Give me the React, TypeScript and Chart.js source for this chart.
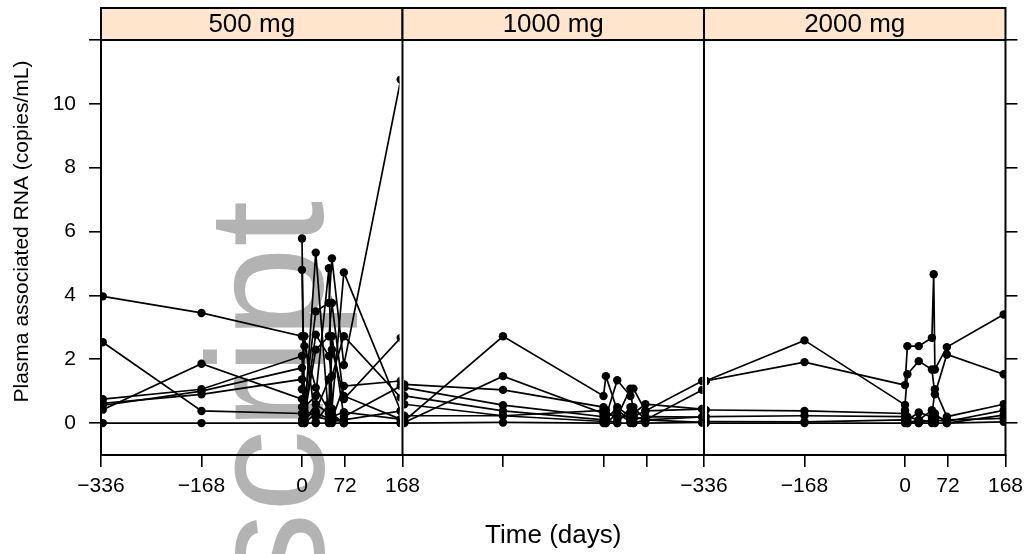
import React, { useEffect, useRef } from 'react';
import { Chart, registerables } from 'chart.js';

Chart.register(...registerables);

const FONT = '"Liberation Sans", Arial, Helvetica, sans-serif';

// Panels (dose groups)
const PANEL_LABELS = ['500 mg', '1000 mg', '2000 mg'];
const PANEL_SPAN = 504; // days covered by one panel (-336 .. 168)
const DAY_MIN = -336;

// Axis ticks
const X_TICK_DAYS = [-336, -168, 0, 72, 168];
const X_TICK_LABELED = [true, false, true];
const Y_TICKS = [0, 2, 4, 6, 8, 10, 12];
const Y_LABELED = [0, 2, 4, 6, 8, 10];
const Y_MIN = -1;
const Y_MAX = 12;

// Visit days per panel
const VISITS_500 = [-333, -168, 0, 4, 23, 45, 50, 70, 165];
const VISITS_1000 = [-333, -168, 0, 4, 23, 45, 50, 70, 165];
const VISITS_2000 = [-333, -168, 0, 4, 23, 45, 48, 50, 70, 165];

// Plasma associated RNA (copies/mL), one row per subject
const RNA_500: (number | null)[][] = [
  [3.97, 3.45, 2.72, 2.41, 1.11, 0.38, 0.2, 0.34, 0.12],
  [2.53, 0.38, 0.3, 0.1, 5.34, 0.05, 0.2, 0.0, 0.0],
  [0.42, 1.86, 0.75, 0.5, 0.85, 4.85, 0.45, 4.72, 0.38],
  [0.75, 1.06, 2.1, 0.6, 3.5, 3.76, 5.16, 1.82, 10.76],
  [0.62, 0.9, 1.37, 0.2, 2.3, 2.72, 3.76, 0.75, 2.67],
  [0.55, 1.0, 1.73, 0.3, 2.77, 2.1, 1.47, 2.72, 0.8],
  [0.0, 0.0, 0.0, 0.0, 0.0, 0.0, 0.0, 0.0, 0.0],
  [null, null, 5.78, 0.15, 0.38, 1.37, 0.1, 1.16, 1.32],
  [null, null, 4.8, 0.05, 0.59, 0.3, 2.3, 0.85, 0.12],
  [null, null, 1.06, 2.72, 0.04, 0.6, 2.72, 0.2, 1.16],
  [null, null, 0.5, 0.4, 0.2, 0.1, 0.3, 0.0, 0.0],
  [null, null, 0.1, 0.0, 0.3, 0.15, 0.05, 0.1, 0.38],
];

const RNA_1000: (number | null)[][] = [
  [0.07, 2.72, 0.85, 1.47, 0.4, 0.1, 0.2, 0.1, 1.04],
  [0.02, 1.47, 0.3, 0.2, 1.34, 0.85, 1.08, 0.38, 1.32],
  [1.21, 1.04, 0.5, 0.3, 0.2, 1.08, 0.3, 0.59, 0.44],
  [1.11, 0.56, 0.2, 0.1, 0.5, 0.2, 0.1, 0.2, 0.19],
  [0.85, 0.38, 0.1, 0.4, 0.1, 0.3, 0.5, 0.1, 0.02],
  [0.59, 0.23, 0.4, 0.0, 0.3, 0.05, 0.2, 0.38, 0.44],
  [0.23, 0.23, 0.05, 0.1, 0.0, 0.5, 0.0, 0.1, 0.19],
  [0.0, 0.02, 0.0, 0.0, 0.0, 0.0, 0.0, 0.0, 0.02],
];

const RNA_2000: (number | null)[][] = [
  [1.32, 2.59, 0.57, 1.53, 1.94, 1.68, null, 0.9, 2.15, 1.53],
  [1.32, 1.91, 1.19, 2.41, 2.41, 2.67, 4.66, 1.68, 2.38, 3.4],
  [0.41, 0.38, 0.3, 0.1, 0.33, 0.2, null, 1.06, 0.2, 0.59],
  [0.2, 0.23, 0.2, 0.0, 0.1, 0.4, null, 0.1, 0.05, 0.4],
  [0.05, 0.04, 0.1, 0.05, 0.0, 0.1, null, 0.3, 0.0, 0.25],
  [0.0, 0.0, 0.0, 0.0, 0.0, 0.0, null, 0.0, 0.0, 0.04],
  [null, null, 0.4, 0.2, 0.1, 0.05, null, 0.2, 0.1, 0.15],
];

const PANEL_VISITS = [VISITS_500, VISITS_1000, VISITS_2000];
const PANEL_ROWS = [RNA_500, RNA_1000, RNA_2000];

const X_TITLE = 'Time (days)';
const Y_TITLE = 'Plasma associated RNA (copies/mL)';
const WATERMARK = 'script';

const toAxis = (panel: number, day: number) => panel * PANEL_SPAN + (day - DAY_MIN);

// Build x tick values and labels
const X_TICK_MAP: Record<number, string> = {};
PANEL_LABELS.forEach((_, p) => {
  X_TICK_DAYS.forEach((d) => {
    const v = toAxis(p, d);
    const lab = X_TICK_LABELED[p] ? (d < 0 ? '\u2212' + Math.abs(d) : String(d)) : '';
    if (lab !== '' || !(v in X_TICK_MAP)) X_TICK_MAP[v] = lab;
  });
});
const X_TICK_VALUES = Object.keys(X_TICK_MAP).map(Number).sort((a, b) => a - b);

export default function App() {
  const canvasRef = useRef<HTMLCanvasElement | null>(null);

  useEffect(() => {
    const canvas = canvasRef.current;
    if (!canvas) return;

    const datasets: any[] = [];
    PANEL_ROWS.forEach((rows, p) => {
      const visits = PANEL_VISITS[p];
      rows.forEach((row) => {
        const data = row
          .map((v, i) => (v === null ? null : { x: toAxis(p, visits[i]), y: v }))
          .filter((d) => d !== null);
        datasets.push({
          data,
          showLine: true,
          spanGaps: true,
          borderColor: '#000',
          borderWidth: 1.7,
          pointRadius: 4.2,
          pointBackgroundColor: '#000',
          pointBorderWidth: 0,
          pointHoverRadius: 4.2,
          yAxisID: 'y',
          xAxisID: 'x',
          clip: { left: -303 * p, right: -303 * (2 - p), top: 0, bottom: 0 },
        });
      });
    });

    const watermark = {
      id: 'watermark',
      beforeDraw(chart: any) {
        const ctx = chart.ctx;
        ctx.save();
        ctx.translate(323, 595);
        ctx.rotate(-Math.PI / 2);
        ctx.font = `165px ${FONT}`;
        ctx.fillStyle = '#b3b3b3';
        ctx.textAlign = 'left';
        ctx.textBaseline = 'alphabetic';
        ctx.fillText(WATERMARK, 0, 0);
        ctx.restore();
      },
    };

    const frame = {
      id: 'frame',
      afterDatasetsDraw(chart: any) {
        const { ctx, chartArea } = chart;
        const xs = chart.scales.x;
        ctx.save();
        ctx.strokeStyle = '#000';
        ctx.lineWidth = 2;
        ctx.strokeRect(chartArea.left, chartArea.top, chartArea.right - chartArea.left, chartArea.bottom - chartArea.top);
        for (let p = 1; p < PANEL_LABELS.length; p++) {
          const px = xs.getPixelForValue(p * PANEL_SPAN);
          ctx.beginPath();
          ctx.moveTo(px, chartArea.top);
          ctx.lineTo(px, chartArea.bottom);
          ctx.stroke();
        }
        ctx.restore();
      },
    };

    const strips = {
      id: 'strips',
      afterDraw(chart: any) {
        const { ctx, chartArea } = chart;
        const xs = chart.scales.x;
        const top = 8;
        const bottom = chartArea.top;
        ctx.save();
        PANEL_LABELS.forEach((lab, p) => {
          const x0 = xs.getPixelForValue(p * PANEL_SPAN);
          const x1 = xs.getPixelForValue((p + 1) * PANEL_SPAN);
          ctx.fillStyle = '#ffe5cc';
          ctx.fillRect(x0, top, x1 - x0, bottom - top);
          ctx.strokeStyle = '#000';
          ctx.lineWidth = 2;
          ctx.strokeRect(x0, top, x1 - x0, bottom - top);
          ctx.fillStyle = '#000';
          ctx.font = `26px ${FONT}`;
          ctx.textAlign = 'center';
          ctx.textBaseline = 'middle';
          ctx.fillText(lab, (x0 + x1) / 2, (top + bottom) / 2 + 1);
        });
        // y-axis title, centred over panels + strips
        ctx.translate(22, (top + chartArea.bottom) / 2);
        ctx.rotate(-Math.PI / 2);
        ctx.font = `21px ${FONT}`;
        ctx.fillStyle = '#000';
        ctx.textAlign = 'center';
        ctx.textBaseline = 'middle';
        ctx.fillText(Y_TITLE, 0, 0);
        ctx.restore();
      },
    };

    const chart = new Chart(canvas, {
      type: 'scatter',
      data: { datasets },
      options: {
        animation: false,
        responsive: false,
        maintainAspectRatio: false,
        devicePixelRatio: 1,
        events: [],
        layout: { padding: { left: 0, right: 0, top: 40, bottom: 0 } },
        plugins: {
          legend: { display: false },
          tooltip: { enabled: false },
        },
        scales: {
          x: {
            type: 'linear',
            position: 'bottom',
            min: 0,
            max: PANEL_SPAN * PANEL_LABELS.length,
            afterBuildTicks: (s: any) => {
              s.ticks = X_TICK_VALUES.map((v) => ({ value: v }));
            },
            afterFit: (s: any) => {
              s.height = 99;
            },
            grid: { drawOnChartArea: false, drawTicks: true, tickLength: 12, color: '#000', lineWidth: 1.6 },
            border: { display: false },
            ticks: {
              autoSkip: false,
              maxRotation: 0,
              minRotation: 0,
              padding: 7,
              color: '#000',
              font: { size: 21, family: FONT },
              callback: (v: any) => X_TICK_MAP[Math.round(Number(v))] ?? '',
            },
            title: {
              display: true,
              text: X_TITLE,
              color: '#000',
              font: { size: 26, family: FONT },
              padding: { top: 0, bottom: 3 },
            },
          },
          y: {
            type: 'linear',
            position: 'left',
            min: Y_MIN,
            max: Y_MAX,
            afterBuildTicks: (s: any) => {
              s.ticks = Y_TICKS.map((v) => ({ value: v }));
            },
            afterFit: (s: any) => {
              s.width = 101;
            },
            grid: { drawOnChartArea: false, drawTicks: true, tickLength: 12, color: '#000', lineWidth: 1.6 },
            border: { display: false },
            ticks: {
              padding: 13,
              color: '#000',
              font: { size: 21, family: FONT },
              callback: (v: any) => (Y_LABELED.includes(Number(v)) ? String(v) : ''),
            },
          },
          y2: {
            type: 'linear',
            position: 'right',
            min: Y_MIN,
            max: Y_MAX,
            afterBuildTicks: (s: any) => {
              s.ticks = Y_TICKS.map((v) => ({ value: v }));
            },
            afterFit: (s: any) => {
              s.width = 20;
            },
            grid: { drawOnChartArea: false, drawTicks: true, tickLength: 12, color: '#000', lineWidth: 1.6 },
            border: { display: false },
            ticks: { display: false },
          },
        },
      } as any,
      plugins: [watermark, frame, strips],
    });

    return () => {
      chart.destroy();
    };
  }, []);

  return (
    <div style={{ position: 'absolute', left: 0, top: 0, width: 1030, height: 554, background: '#fff' }}>
      <canvas ref={canvasRef} width={1030} height={554} style={{ display: 'block', width: 1030, height: 554 }} />
    </div>
  );
}
